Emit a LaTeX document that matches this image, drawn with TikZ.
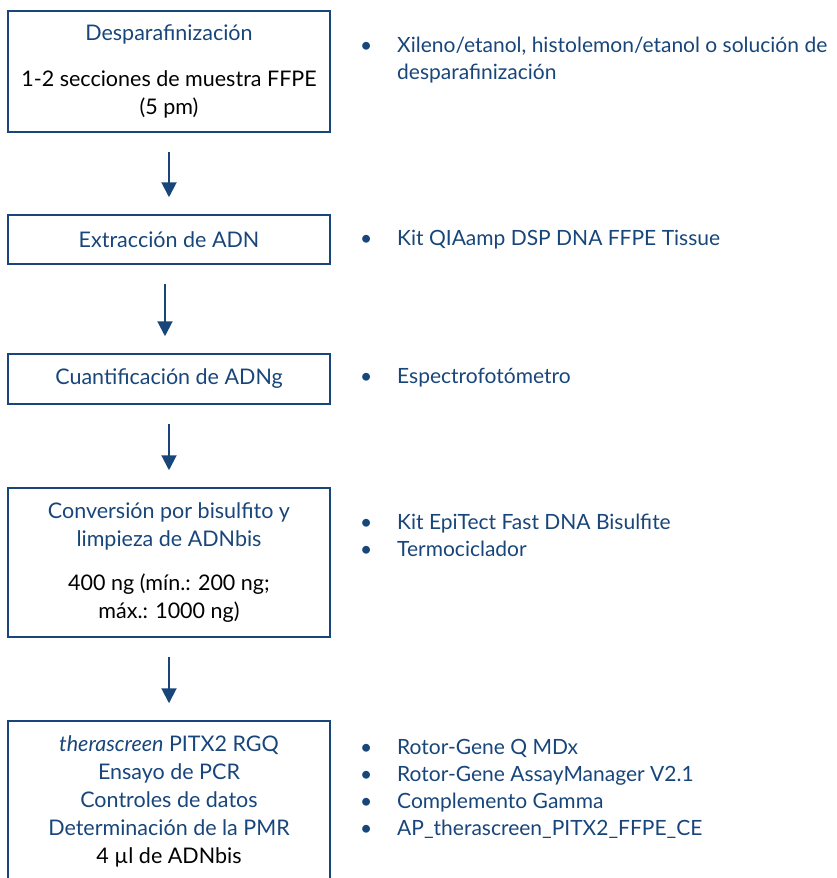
\documentclass[tikz,border=0pt]{standalone}
\usepackage{fontspec}
\setmainfont{Lato}
\usetikzlibrary{arrows.meta}
\definecolor{qblue}{RGB}{24,70,122}
\newcommand{\bul}{\makebox[37pt][l]{•}}
\newcommand{\indt}{\hspace*{37pt}}
\newcommand{\blk}{\color{black}}
\tikzset{
  stage/.style={draw=qblue, line width=1.5pt, text=qblue, align=center, minimum width=322pt, inner sep=0pt, font=\fontsize{21.5}{28}\selectfont},
  flow/.style={draw=qblue, line width=2pt, -{Triangle[width=15pt,length=15pt]}, shorten >=17pt, shorten <=19pt},
  items/.style={anchor=west, align=left, inner sep=0pt, text=qblue, font=\fontsize{21}{27}\selectfont}
}
\begin{document}
\begin{tikzpicture}[x=1pt, y=-1pt]
    \clip (0,0) rectangle (837,878);
    % steps on the left
    \node[stage, minimum height=121pt] (desp) at (169,71.5) {Desparafinización\\[18pt]\blk 1-2 secciones de muestra FFPE\\\blk (5 pm)};
    \node[stage, minimum height=49pt] (extr) at (169,239.5) {Extracción de ADN};
    \node[stage, minimum height=50pt] (cuant) at (169,379) {Cuantificación de ADNg};
    \node[stage, minimum height=149pt] (conv) at (169,562.5) {Conversión por bisulfito y\\limpieza de ADNbis\\[16pt]\blk 400 ng (mín.: 200 ng;\\\blk máx.: 1000 ng)};
    \node[stage, minimum height=161pt] (pcr) at (169,801.5) {\textit{therascreen} PITX2 RGQ\\Ensayo de PCR\\Controles de datos\\Determinación de la PMR\\\blk 4 µl de ADNbis};

    \draw[flow] (desp) -- (extr);
    \draw[flow] ([xshift=-4pt]extr.south) -- ([xshift=-4pt]cuant.north);
    \draw[flow] (cuant) -- (conv);
    \draw[flow] (conv) -- (pcr);

    % what is needed for each step
    \node[items] (l1) at (360,60.5) {\bul Xileno/etanol, histolemon/etanol o solución de\\\indt desparafinización};
    \node[items] (l2) at (360,239.5) {\bul Kit QIAamp DSP DNA FFPE Tissue};
    \node[items] (l3) at (360,378) {\bul Espectrofotómetro};
    \node[items] (l4) at (360,535) {\bul Kit EpiTect Fast DNA Bisulfite\\\bul Termociclador};
    \node[items] (l5) at (360,788.5) {\bul Rotor-Gene Q MDx\\\bul Rotor-Gene AssayManager V2.1\\\bul Complemento Gamma\\\bul AP\_therascreen\_PITX2\_FFPE\_CE};
\end{tikzpicture}
\end{document}
